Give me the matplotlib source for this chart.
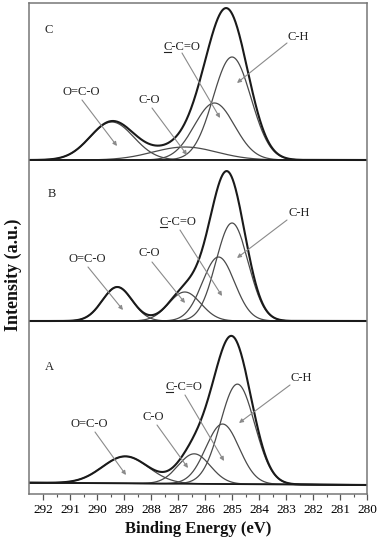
import numpy as np
import matplotlib
matplotlib.use("Agg")
import matplotlib.pyplot as plt

plt.rcParams['font.family'] = ['Liberation Serif', 'DejaVu Serif']

# ---- data: peak parameters (center eV, height a.u., FWHM eV)
labels = ["O=C-O", "C-O", "C-C=O", "C-H"]
panels = ["C", "B", "A"]
centers_C = [289.45, 286.75, 285.65, 285.00]
heights_C = [38, 13, 57, 103]
fwhm_C = [1.90, 2.80, 1.75, 1.65]

centers_B = [289.25, 286.75, 285.50, 285.00]
heights_B = [34, 29, 64, 98]
fwhm_B = [1.30, 1.40, 1.40, 1.40]

centers_A = [288.95, 286.40, 285.35, 284.80]
heights_A = [27, 30, 60, 100]
fwhm_A = [2.00, 1.40, 1.45, 1.50]

# baseline levels (left, right) of the stacked spectra
base_left = [334, 173, 11.3]
base_right = [334, 173, 9.0]

xticks = list(range(280, 293))

W, H = 380, 550
fig = plt.figure(figsize=(W / 100, H / 100), dpi=100)
L, R, T, B = 29, 367, 3, 494
ax = fig.add_axes([L / W, 1 - B / H, (R - L) / W, (B - T) / H])
XMAX, XMIN = 292.52, 280.0
ax.set_xlim(XMAX, XMIN)
ax.set_ylim(0, B - T)

def px2x(px):
    return XMAX - (px - L) / (R - L) * (XMAX - XMIN)

def px2y(py):
    return B - py

x = np.linspace(XMIN, XMAX, 2000)

def peak(c, h, w):
    return h * np.exp(-4 * np.log(2) * (x - c) ** 2 / w ** 2)

params = [(centers_C, heights_C, fwhm_C), (centers_B, heights_B, fwhm_B), (centers_A, heights_A, fwhm_A)]
comp_col = '#4a4a4a'
env_col = '#1a1a1a'
for i, (cs, hs, ws) in enumerate(params):
    base = base_right[i] + (base_left[i] - base_right[i]) * (x - XMIN) / (XMAX - XMIN)
    total = np.zeros_like(x)
    for c, h, w in zip(cs, hs, ws):
        comp = peak(c, h, w)
        total += comp
        ax.plot(x, base + comp, color=comp_col, lw=0.9)
    ax.plot(x, base, color=env_col, lw=1.3)
    ax.plot(x, base + total, color=env_col, lw=1.5)

# panel letters
for name, (px, py) in zip(panels, [(49, 30), (52, 194), (49, 367)]):
    ax.text(px2x(px), px2y(py), name, fontsize=9, ha='center', va='center', color='#222')

# annotations: label text center, arrow tail, arrow head (pixel layout)
ann = [
    # panel C
    ("O=C-O", (81, 92), (82, 100), (117, 146)),
    ("C-O", (149, 100), (152, 108), (187, 155)),
    ("C-C=O", (182, 47), (182, 53), (220, 118)),
    ("C-H", (298, 37), (287, 43), (237, 83)),
    # panel B
    ("O=C-O", (87, 259), (88, 267), (123, 310)),
    ("C-O", (149, 253), (152, 262), (185, 303)),
    ("C-C=O", (178, 222), (180, 230), (222, 296)),
    ("C-H", (299, 213), (287, 220), (237, 258)),
    # panel A
    ("O=C-O", (89, 424), (95, 432), (126, 475)),
    ("C-O", (153, 417), (157, 425), (188, 468)),
    ("C-C=O", (184, 387), (185, 395), (224, 461)),
    ("C-H", (301, 378), (290, 385), (239, 423)),
]
underline_texts = []
for txt, tpos, tail, head in ann:
    t = ax.text(px2x(tpos[0]), px2y(tpos[1]), txt, fontsize=9, ha='center', va='center', color='#222')
    if txt == "C-C=O":
        underline_texts.append(t)
    ax.annotate("", xy=(px2x(head[0]), px2y(head[1])), xytext=(px2x(tail[0]), px2y(tail[1])),
                arrowprops=dict(arrowstyle='-|>', color='#8a8a8a', lw=0.8, mutation_scale=6,
                                shrinkA=0, shrinkB=0))

# axes styling
for s in ax.spines.values():
    s.set_color('#777777')
    s.set_linewidth(1.1)
ax.set_yticks([])
ax.set_xticks(xticks)
ax.set_xticklabels([str(v) for v in xticks])
ax.set_xticks(np.arange(280.5, 292.5, 1.0), minor=True)
ax.tick_params(axis='x', which='major', direction='out', length=4, width=0.9, color='#555',
               labelsize=9.5, pad=3)
ax.tick_params(axis='x', which='minor', direction='out', length=2, width=0.8, color='#555')

fig.text(198.5 / W, 1 - 529 / H, "Binding Energy (eV)", fontsize=12, fontweight='bold',
         ha='center', va='center', color='#111')
fig.text(13 / W, 1 - 275 / H, "Intensity (a.u.)", fontsize=13, fontweight='bold',
         ha='center', va='center', rotation=90, color='#111')

# underline first C of "C-C=O"
fig.canvas.draw()
rend = fig.canvas.get_renderer()
for t in underline_texts:
    bb = t.get_window_extent(rend)
    tmp = ax.text(0, 0, "C", fontsize=9)
    cw = tmp.get_window_extent(rend).width
    tmp.remove()
    y0 = bb.y0 + 1.0
    inv = fig.transFigure.inverted()
    (fx0, fy0) = inv.transform((bb.x0 + 0.5, y0))
    (fx1, _) = inv.transform((bb.x0 + cw - 0.5, y0))
    fig.add_artist(plt.Line2D([fx0, fx1], [fy0, fy0], transform=fig.transFigure, color='#222', lw=0.8))

fig.savefig("out.png", dpi=100)
